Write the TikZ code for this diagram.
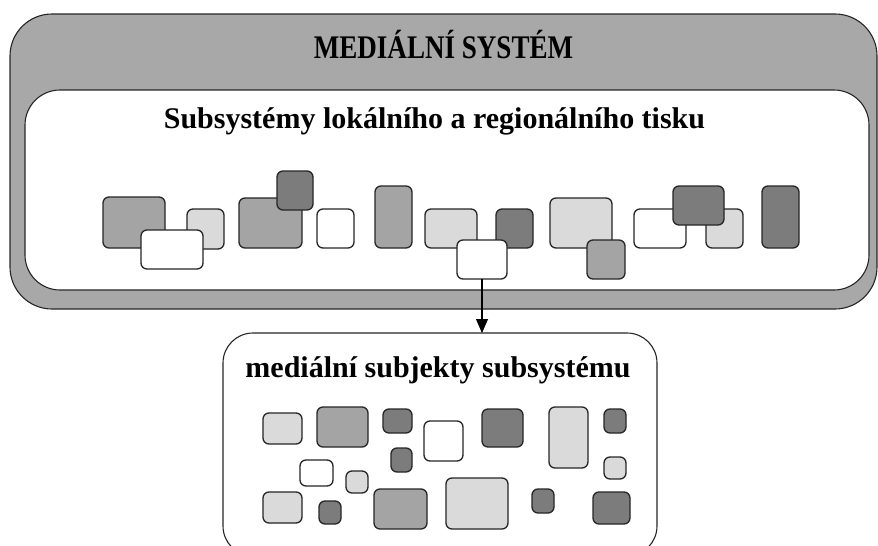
\documentclass[tikz,border=0pt]{standalone}
\usepackage{fontspec}
\setmainfont{Liberation Serif}
\usetikzlibrary{arrows.meta}

\definecolor{framegrey}{HTML}{A8A8A8}
\definecolor{tlight}{HTML}{DADADA}
\definecolor{tmid}{HTML}{A4A4A4}
\definecolor{tdark}{HTML}{7C7C7C}
\definecolor{edge}{HTML}{262626}

% one rounded tile given by its corners (x1,y1)-(x2,y2) and its fill
\newcommand\tile[6]{%
  \node[tile,fill=#6,minimum width={(#4-#2)*1pt},minimum height={(#5-#3)*1pt}]
    (#1) at ({(#2+#4)/2},{(#3+#5)/2}) {};}

\begin{document}
\begin{tikzpicture}[x=1pt,y=-1pt,
  tile/.style={draw=edge,line width=1.3pt,rounded corners=6pt,inner sep=0pt,outer sep=0pt},
  panel/.style={draw=edge,line width=1.1pt,inner sep=0pt,outer sep=0pt},
  heading/.style={font=\fontsize{30}{36}\selectfont\bfseries,anchor=base,inner sep=0pt},
  arr/.style={draw=black,line width=1.1pt,-{Triangle[length=14pt,width=12pt]}}]
\useasboundingbox (0,0) rectangle (878,546);
\clip (0,0) rectangle (878,546);

% media system frame and the regional press panel inside it
\node[panel,fill=framegrey,rounded corners=42pt,minimum width=867pt,minimum height=295pt]
  (sys) at (443.5,161.5) {};
\node[panel,fill=white,rounded corners=35pt,minimum width=844pt,minimum height=200pt]
  (reg) at (447,190) {};
\node[heading,font=\fontsize{33}{38}\selectfont\bfseries,xscale=0.82] (systitle)
  at (443.5,58) {MEDIÁLNÍ SYSTÉM};
\node[heading] (regtitle) at (434.5,128) {Subsystémy lokálního a regionálního tisku};

% subsystems of the regional press
\tile{u1}{103}{197}{165}{248}{tmid}
\tile{u2}{187}{209}{224}{249}{tlight}
\tile{u3}{141}{230}{203}{269}{white}
\tile{u4}{239}{198}{302}{248}{tmid}
\tile{u5}{277}{171}{313}{210}{tdark}
\tile{u6}{317}{209}{354}{248}{white}
\tile{u7}{375}{186}{412}{248}{tmid}
\tile{u8}{425}{209}{477}{248}{tlight}
\tile{u10}{496}{209}{533}{248}{tdark}
\tile{u9}{457}{240}{507}{279}{white}
\tile{u11}{550}{198}{612}{248}{tlight}
\tile{u12}{587}{240}{625}{279}{tmid}
\tile{u13}{634}{209}{686}{248}{white}
\tile{u14}{706}{209}{743}{248}{tlight}
\tile{u15}{673}{186}{724}{225}{tdark}
\tile{u16}{762}{186}{799}{248}{tdark}

% media subjects of one subsystem
\node[panel,fill=white,rounded corners=30pt,minimum width=434pt,minimum height=223pt]
  (subj) at (440,444.5) {};
\node[heading] (subjtitle) at (438,377) {mediální subjekty subsystému};

\tile{l1}{263}{413}{302}{444}{tlight}
\tile{l2}{317}{407}{368}{447}{tmid}
\tile{l3}{383}{409}{412}{433}{tdark}
\tile{l4}{424}{421}{463}{461}{white}
\tile{l5}{482}{409}{523}{447}{tdark}
\tile{l6}{549}{407}{588}{468}{tlight}
\tile{l7}{604}{409}{626}{433}{tdark}
\tile{l8}{391}{448}{412}{472}{tdark}
\tile{l9}{300}{460}{333}{486}{white}
\tile{l10}{346}{471}{368}{493}{tlight}
\tile{l11}{604}{457}{626}{479}{tlight}
\tile{l12}{263}{492}{302}{523}{tlight}
\tile{l13}{319}{501}{341}{524}{tdark}
\tile{l14}{374}{489}{427}{529}{tmid}
\tile{l15}{446}{478}{508}{529}{tlight}
\tile{l16}{532}{489}{554}{513}{tdark}
\tile{l17}{593}{492}{630}{524}{tdark}

% zoom from one subsystem to its subjects
\draw[arr] (u9.south) -- (u9.south |- subj.north);
\end{tikzpicture}
\end{document}
